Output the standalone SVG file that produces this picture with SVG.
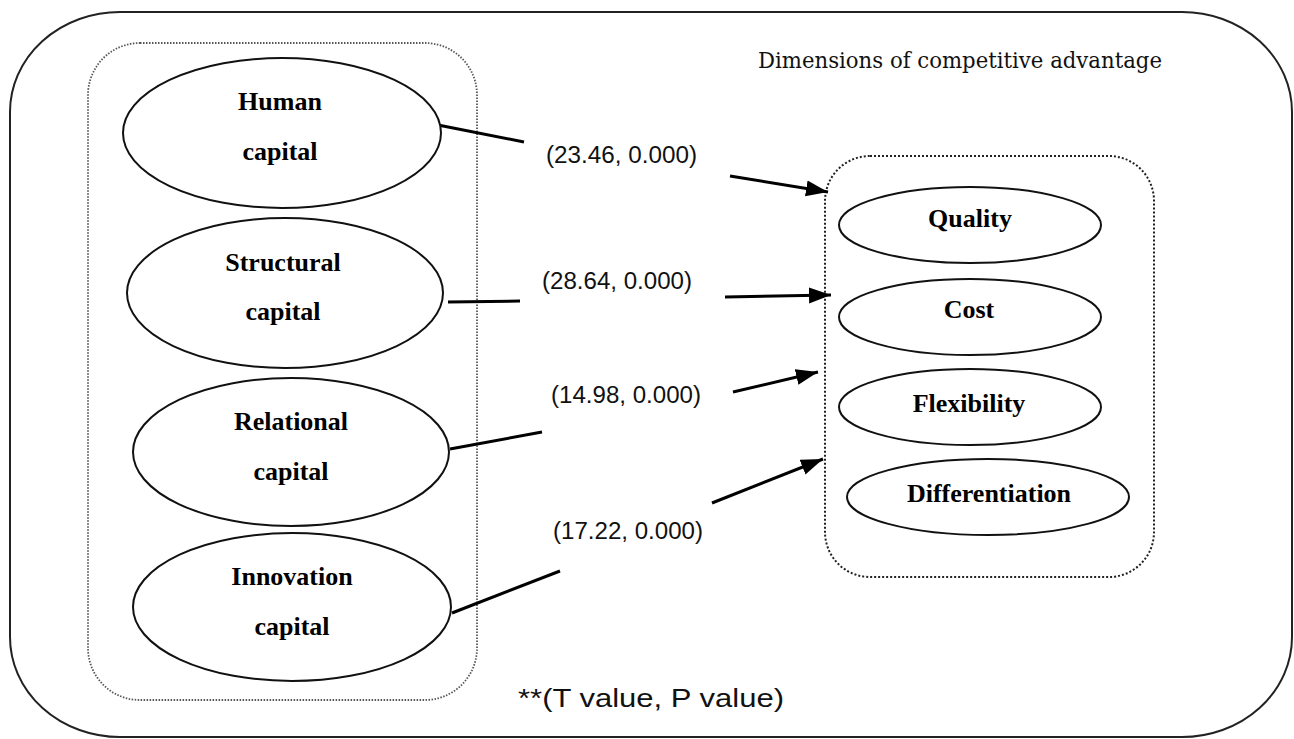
<svg xmlns="http://www.w3.org/2000/svg" width="1294" height="739" viewBox="0 0 1294 739">
<style>
.bg{fill:#fff}
.outer{fill:none;stroke:#222;stroke-width:2}
.dot1{fill:none;stroke:#555;stroke-width:1.8;stroke-dasharray:1.5 1.5}
.dot2{fill:none;stroke:#222;stroke-width:2;stroke-dasharray:2 2}
.el{fill:#fff;stroke:#111;stroke-width:2}
.nt{font-family:"Liberation Serif","Times New Roman",serif;font-weight:bold;font-size:26px;fill:#000;text-anchor:middle}
.lab{font-family:"Liberation Sans",Arial,sans-serif;font-size:23px;fill:#111}
.title{font-family:"DejaVu Serif","Liberation Serif",serif;font-size:23px;fill:#111}
.ln{fill:none;stroke:#000;stroke-width:3}
</style>
<defs>
<marker id="ah" markerUnits="userSpaceOnUse" markerWidth="24" markerHeight="18" viewBox="0 0 24 18" refX="22" refY="9" orient="auto">
<path d="M0,1 L22,9 L0,17 Z" fill="#000"/>
</marker>
</defs>
<rect class="bg" x="0" y="0" width="1294" height="739"/>
<g id="frame">
<rect class="outer" x="10" y="12" width="1282" height="725" rx="110" ry="100"/>
</g>
<g id="left-group">
<rect class="dot1" x="88" y="43" width="389" height="657" rx="52" ry="52"/>
</g>
<g id="right-group">
<rect class="dot2" x="825" y="156" width="329" height="421" rx="45" ry="45"/>
<text class="title" x="758" y="68" textLength="404" lengthAdjust="spacingAndGlyphs">Dimensions of competitive advantage</text>
</g>
<g id="connectors">
<line class="ln" x1="438" y1="125" x2="524" y2="142"/>
<line class="ln" x1="730" y1="176" x2="828" y2="192" marker-end="url(#ah)"/>
<line class="ln" x1="448" y1="302" x2="520" y2="301"/>
<line class="ln" x1="725" y1="297" x2="831" y2="295" marker-end="url(#ah)"/>
<line class="ln" x1="450" y1="449" x2="542" y2="432"/>
<line class="ln" x1="733" y1="392" x2="818" y2="372" marker-end="url(#ah)"/>
<line class="ln" x1="452" y1="613" x2="560" y2="571"/>
<line class="ln" x1="712" y1="503" x2="823" y2="459" marker-end="url(#ah)"/>
<text class="lab" x="546" y="163" textLength="151" lengthAdjust="spacingAndGlyphs">(23.46, 0.000)</text>
<text class="lab" x="542" y="289" textLength="150" lengthAdjust="spacingAndGlyphs">(28.64, 0.000)</text>
<text class="lab" x="551" y="403" textLength="150" lengthAdjust="spacingAndGlyphs">(14.98, 0.000)</text>
<text class="lab" x="553" y="539" textLength="150" lengthAdjust="spacingAndGlyphs">(17.22, 0.000)</text>
</g>
<g id="human">
<ellipse class="el" cx="282" cy="133" rx="159" ry="75"/>
<text class="nt" x="280" y="110">Human</text>
<text class="nt" x="280" y="160">capital</text>
</g>
<g id="structural">
<ellipse class="el" cx="285" cy="293" rx="158" ry="75"/>
<text class="nt" x="283" y="271">Structural</text>
<text class="nt" x="283" y="320">capital</text>
</g>
<g id="relational">
<ellipse class="el" cx="291" cy="452" rx="158" ry="74"/>
<text class="nt" x="291" y="430">Relational</text>
<text class="nt" x="291" y="480">capital</text>
</g>
<g id="innovation">
<ellipse class="el" cx="292" cy="607" rx="159" ry="74"/>
<text class="nt" x="292" y="585">Innovation</text>
<text class="nt" x="292" y="635">capital</text>
</g>
<g id="quality">
<ellipse class="el" cx="970" cy="225" rx="131" ry="38"/>
<text class="nt" x="970" y="227">Quality</text>
</g>
<g id="cost">
<ellipse class="el" cx="970" cy="317" rx="131" ry="38"/>
<text class="nt" x="969" y="318">Cost</text>
</g>
<g id="flexibility">
<ellipse class="el" cx="970" cy="407" rx="131" ry="38"/>
<text class="nt" x="969" y="412">Flexibility</text>
</g>
<g id="differentiation">
<ellipse class="el" cx="988" cy="497" rx="141" ry="38"/>
<text class="nt" x="989" y="502">Differentiation</text>
</g>
<g id="note">
<text class="lab" x="518" y="707" style="font-size:26px" textLength="266" lengthAdjust="spacingAndGlyphs">**(T value, P value)</text>
</g>
</svg>
